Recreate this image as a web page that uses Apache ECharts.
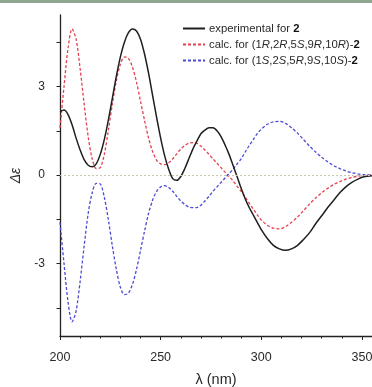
<!DOCTYPE html>
<html>
<head>
<meta charset="utf-8">
<script src="https://cdn.jsdelivr.net/npm/echarts@6/dist/echarts.min.js"></script>
<style>
  html, body { margin: 0; padding: 0; background: #ffffff; }
  #chart { width: 372px; height: 387px; }
</style>
</head>
<body>
<div id="chart"></div>
<script>
// Wavelengths (nm) shared by all three ECD curves
const wavelength = [
  200, 202, 204, 206, 208, 210, 212, 214, 216, 218,
  220, 222, 224, 226, 228, 230, 232, 234, 236, 238,
  240, 242, 244, 246, 248, 250, 252, 254, 256, 258,
  260, 262, 264, 266, 268, 270, 272, 274, 276, 278,
  280, 282, 284, 286, 288, 290, 292, 294, 296, 298,
  300, 303, 306, 309, 312, 315, 318, 321, 324, 327,
  330, 333, 336, 339, 342, 345, 348, 351, 355
];

// Experimental ECD spectrum of 2
const experimental = [
  2.15, 2.2, 2.05, 1.7, 1.25, 0.85, 0.52, 0.33, 0.28, 0.38,
  0.7, 1.2, 1.85, 2.6, 3.35, 4.0, 4.5, 4.82, 4.95, 4.88,
  4.6, 4.1, 3.45, 2.7, 1.95, 1.25, 0.65, 0.2, -0.12, -0.18,
  -0.05, 0.22, 0.55, 0.88, 1.15, 1.4, 1.52, 1.6, 1.6, 1.5,
  1.3, 1.02, 0.7, 0.32, -0.06, -0.45, -0.8, -1.1, -1.35, -1.6,
  -1.85, -2.15, -2.38, -2.5, -2.55, -2.5, -2.38, -2.18, -1.95, -1.65,
  -1.38, -1.1, -0.85, -0.6, -0.4, -0.25, -0.14, -0.06, -0.02
];

// Calculated ECD for (1R,2R,5S,9R,10R)-2
const calcRRSRR = [
  1.6, 3.0, 4.3, 4.95, 4.6, 3.6, 2.4, 1.3, 0.55, 0.22,
  0.25, 0.7, 1.5, 2.4, 3.2, 3.75, 4.0, 3.95, 3.65, 3.15,
  2.5, 1.85, 1.25, 0.8, 0.5, 0.38, 0.35, 0.42, 0.55, 0.72,
  0.88, 1.0, 1.08, 1.1, 1.07, 0.98, 0.85, 0.7, 0.55, 0.4,
  0.25, 0.1, -0.05, -0.2, -0.38, -0.55, -0.75, -0.95, -1.15, -1.35,
  -1.52, -1.7, -1.8, -1.82, -1.75, -1.6, -1.42, -1.2, -0.98, -0.78,
  -0.6, -0.45, -0.32, -0.22, -0.14, -0.08, -0.04, -0.01, 0
];

// Calculated ECD for (1S,2S,5R,9S,10S)-2
const calcSSRSS = [
  -1.6, -3.0, -4.3, -4.97, -4.6, -3.6, -2.4, -1.3, -0.6, -0.28,
  -0.3, -0.75, -1.5, -2.4, -3.2, -3.8, -4.05, -4.0, -3.7, -3.2,
  -2.55, -1.9, -1.3, -0.85, -0.55, -0.4, -0.36, -0.42, -0.55, -0.72,
  -0.88, -1.0, -1.08, -1.1, -1.1, -1.02, -0.88, -0.72, -0.55, -0.4,
  -0.25, -0.1, 0.05, 0.2, 0.38, 0.55, 0.78, 1.0, 1.2, 1.4,
  1.55, 1.72, 1.8, 1.82, 1.75, 1.6, 1.42, 1.2, 0.98, 0.78,
  0.6, 0.45, 0.32, 0.22, 0.14, 0.08, 0.04, 0.01, 0
];

// Axis tick values
const xTickLabels = [200, 250, 300, 350];
const yTickLabels = [-3, 0, 3];
const yMinorTicks = [-4.5, -3, -1.5, 0, 1.5, 3, 4.5];

const seriesNames = ['exp', 'calcR', 'calcS'];

const pairs = (ys) => wavelength.map((x, i) => [x, ys[i]]);

const FONT = '"Liberation Sans", Arial, sans-serif';
const LEGEND_SIZE = 11.3;

const chart = echarts.init(document.getElementById('chart'), null, { renderer: 'canvas' });

const legendRich = {
  n: { fontFamily: FONT, fontSize: LEGEND_SIZE, color: '#2a2a2a' },
  i: { fontFamily: FONT, fontSize: LEGEND_SIZE, color: '#2a2a2a', fontStyle: 'italic' },
  b: { fontFamily: FONT, fontSize: LEGEND_SIZE, color: '#111', fontWeight: 'bold' }
};

const legendText = {
  exp: '{n|experimental for }{b|2}',
  calcR: '{n|calc. for (1}{i|R}{n|,2}{i|R}{n|,5}{i|S}{n|,9}{i|R}{n|,10}{i|R}{n|)-}{b|2}',
  calcS: '{n|calc. for (1}{i|S}{n|,2}{i|S}{n|,5}{i|R}{n|,9}{i|S}{n|,10}{i|S}{n|)-}{b|2}'
};

chart.setOption({
  animation: false,
  backgroundColor: '#ffffff',
  graphic: [{
    type: 'rect',
    left: 0, top: 0,
    shape: { width: 372, height: 3 },
    style: { fill: '#8ea68f' },
    silent: true
  }],
  grid: { left: 60, right: 0, top: 15, bottom: 51, containLabel: false, outerBoundsMode: 'none' },
  legend: {
    orient: 'vertical',
    left: 177,
    top: 18,
    itemWidth: 22,
    itemHeight: 8,
    itemGap: 5,
    data: seriesNames,
    formatter: (name) => legendText[name],
    itemStyle: { color: 'rgba(0,0,0,0)', borderWidth: 0, opacity: 0 },
    textStyle: { rich: legendRich, fontFamily: FONT, fontSize: LEGEND_SIZE, color: '#2a2a2a', padding: [0, 0, 0, -1] }
  },
  xAxis: {
    type: 'value',
    min: 200,
    max: 355,
    interval: 50,
    name: 'λ (nm)',
    nameLocation: 'middle',
    nameGap: 36,
    nameTextStyle: { fontFamily: FONT, fontSize: 14.5, color: '#2a2a2a' },
    axisLine: { onZero: false, lineStyle: { color: '#222', width: 1.3 } },
    axisTick: { show: true, length: 4, lineStyle: { color: '#222' }, customValues: xTickLabels },
    minorTick: { show: true, splitNumber: 5, length: 2.5, lineStyle: { color: '#222' } },
    axisLabel: {
      customValues: xTickLabels,
      margin: 15,
      fontFamily: FONT, fontSize: 12.5, color: '#2a2a2a'
    },
    splitLine: { show: false }
  },
  yAxis: {
    type: 'value',
    min: -5.45,
    max: 5.42,
    name: 'Δε',
    nameLocation: 'middle',
    nameRotate: 90,
    nameGap: 37,
    nameTextStyle: { fontFamily: FONT, fontSize: 14, color: '#2a2a2a', fontStyle: 'italic' },
    axisLine: { onZero: false, lineStyle: { color: '#222', width: 1.3 } },
    axisTick: { show: true, length: 3.5, lineStyle: { color: '#222' }, customValues: yMinorTicks },
    axisLabel: {
      customValues: yTickLabels,
      margin: 15,
      fontFamily: FONT, fontSize: 12, color: '#2a2a2a'
    },
    splitLine: { show: false }
  },
  series: [
    {
      name: 'exp',
      type: 'line',
      data: pairs(experimental),
      smooth: 0.3,
      showSymbol: false,
      symbol: 'none',
      z: 4,
      lineStyle: { color: '#1f1f1f', width: 1.5 },
      itemStyle: { color: '#1f1f1f' },
      markLine: {
        silent: true,
        symbol: 'none',
        label: { show: false },
        lineStyle: { color: '#c9c6b4', type: [2, 2], width: 1 },
        data: [{ yAxis: 0 }]
      }
    },
    {
      name: 'calcR',
      type: 'line',
      data: pairs(calcRRSRR),
      smooth: 0.3,
      showSymbol: false,
      symbol: 'none',
      z: 3,
      lineStyle: { color: '#e2424f', width: 1.3, type: [3, 2] },
      itemStyle: { color: '#e2424f' }
    },
    {
      name: 'calcS',
      type: 'line',
      data: pairs(calcSSRSS),
      smooth: 0.3,
      showSymbol: false,
      symbol: 'none',
      z: 3,
      lineStyle: { color: '#4a4ad4', width: 1.3, type: [3, 2] },
      itemStyle: { color: '#4a4ad4' }
    }
  ]
});
</script>
</body>
</html>
